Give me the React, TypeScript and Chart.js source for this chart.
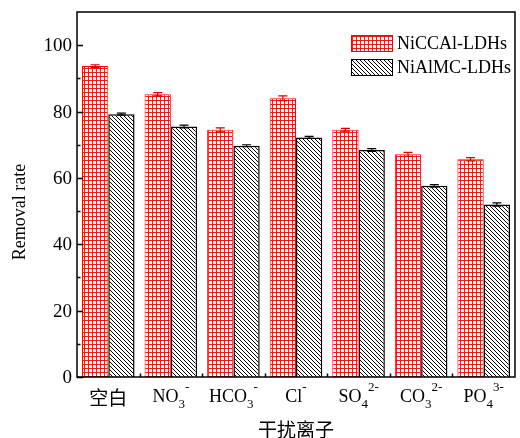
import { useEffect, useRef } from 'react';
import { Chart, registerables } from 'chart.js';
Chart.register(...registerables);

const labelBase = ['空白', 'NO', 'HCO', 'Cl', 'SO', 'CO', 'PO'];
const labelSub = ['', '3', '3', '', '4', '3', '4'];
const labelSup = ['', '-', '-', '-', '2-', '2-', '3-'];
const seriesNames = ['NiCCAl-LDHs', 'NiAlMC-LDHs'];
const niccal = [93.7, 85.2, 74.5, 84.0, 74.5, 67.1, 65.6];
const nialmc = [79.2, 75.5, 69.7, 72.2, 68.4, 57.6, 52.0];
const niccalErr = [0.4, 0.5, 0.6, 0.7, 0.4, 0.6, 0.5];
const nialmcErr = [0.3, 0.4, 0.3, 0.3, 0.4, 0.4, 0.5];
const yMajorTicks = [0, 20, 40, 60, 80, 100];
const yMinorTicks = [10, 30, 50, 70, 90];
const xTitle = '干扰离子';
const yTitle = 'Removal rate';

const SERIF = '"Liberation Serif", "DejaVu Serif", serif';
const CJK = '"Noto Sans CJK SC", sans-serif';

function makeGrid(ctx: CanvasRenderingContext2D) {
  const c = document.createElement('canvas');
  c.width = 4; c.height = 4;
  const g = c.getContext('2d')!;
  g.fillStyle = '#ffffff';
  g.fillRect(0, 0, 4, 4);
  g.fillStyle = 'rgba(255,0,0,0.9)';
  g.fillRect(0, 0, 4, 1);
  g.fillRect(0, 0, 1, 4);
  return ctx.createPattern(c, 'repeat')!;
}

function makeHatch(ctx: CanvasRenderingContext2D) {
  const s = 4;
  const c = document.createElement('canvas');
  c.width = s; c.height = s;
  const g = c.getContext('2d')!;
  g.fillStyle = '#ffffff';
  g.fillRect(0, 0, s, s);
  g.strokeStyle = '#000000';
  g.lineWidth = 1.0;
  for (const off of [-s, 0, s]) {
    g.beginPath();
    g.moveTo(off - 1, -1);
    g.lineTo(off + s + 1, s + 1);
    g.stroke();
  }
  return ctx.createPattern(c, 'repeat')!;
}

export default function App() {
  const ref = useRef<HTMLCanvasElement>(null);
  useEffect(() => {
    document.body.style.margin = '0';
    const ctx = ref.current!.getContext('2d')!;
    const gridPat = makeGrid(ctx);
    const hatchPat = makeHatch(ctx);
    const errs = [niccalErr, nialmcErr];
    const errColors = ['#d00000', '#000000'];
    const pats = [gridPat, hatchPat];
    const borders = ['#ff0000', '#000000'];

    const overlay = {
      id: 'overlay',
      afterDatasetsDraw(chart: any) {
        const c = chart.ctx as CanvasRenderingContext2D;
        const a = chart.chartArea;
        const xs = chart.scales.x;
        const ys = chart.scales.y;
        c.save();
        // error bars
        chart.data.datasets.forEach((ds: any, di: number) => {
          const meta = chart.getDatasetMeta(di);
          meta.data.forEach((el: any, i: number) => {
            const v = ds.data[i];
            const e = errs[di][i];
            const yt = ys.getPixelForValue(v + e);
            const yb = ys.getPixelForValue(v - e);
            c.strokeStyle = errColors[di];
            c.lineWidth = 1.2;
            c.beginPath();
            c.moveTo(el.x, yt); c.lineTo(el.x, yb);
            c.moveTo(el.x - 4.5, yt); c.lineTo(el.x + 4.5, yt);
            c.moveTo(el.x - 4.5, yb); c.lineTo(el.x + 4.5, yb);
            c.stroke();
          });
        });
        // frame
        c.strokeStyle = '#000';
        c.lineWidth = 1.5;
        c.strokeRect(a.left, a.top, a.right - a.left, a.bottom - a.top);
        // y ticks
        c.beginPath();
        yMajorTicks.forEach(v => {
          const y = Math.round(ys.getPixelForValue(v)) + 0.5;
          c.moveTo(a.left, y); c.lineTo(a.left + 6, y);
        });
        yMinorTicks.forEach(v => {
          const y = Math.round(ys.getPixelForValue(v)) + 0.5;
          c.moveTo(a.left, y); c.lineTo(a.left + 3.5, y);
        });
        const n = labelBase.length;
        const cw = (a.right - a.left) / n;
        for (let i = 1; i < n; i++) {
          const x = Math.round(a.left + cw * i) + 0.5;
          c.moveTo(x, a.bottom); c.lineTo(x, a.bottom - 3.5);
        }
        c.stroke();
        // y tick labels
        c.fillStyle = '#000';
        c.font = `19px ${SERIF}`;
        c.textAlign = 'right';
        c.textBaseline = 'middle';
        yMajorTicks.forEach(v => {
          c.fillText(String(v), a.left - 5, ys.getPixelForValue(v) + 1);
        });
        // x labels
        c.textBaseline = 'alphabetic';
        c.textAlign = 'left';
        const baseFont = `18px ${SERIF}`;
        const smallFont = `13px ${SERIF}`;
        for (let i = 0; i < n; i++) {
          const cx = xs.getPixelForValue(i);
          const base = labelBase[i];
          const isCJK = /[\u4e00-\u9fff]/.test(base);
          const bf = isCJK ? `19px ${CJK}` : baseFont;
          c.font = bf;
          const wb = c.measureText(base).width;
          c.font = smallFont;
          const ws = labelSub[i] ? c.measureText(labelSub[i]).width : 0;
          const wp = labelSup[i] ? c.measureText(labelSup[i]).width : 0;
          const total = wb + ws + wp;
          let x = cx - total / 2;
          const by = isCJK ? 405 : 402;
          c.font = bf;
          c.fillText(base, x, by);
          x += wb;
          c.font = smallFont;
          if (labelSub[i]) c.fillText(labelSub[i], x, by + 6);
          if (labelSup[i]) c.fillText(labelSup[i], x + ws, by - 11);
        }
        // axis titles
        c.font = `19px ${CJK}`;
        c.textAlign = 'center';
        c.textBaseline = 'middle';
        c.fillText(xTitle, (a.left + a.right) / 2, 430);
        c.save();
        c.translate(20, 212);
        c.rotate(-Math.PI / 2);
        c.font = `18px ${SERIF}`;
        c.fillText(yTitle, 0, 0);
        c.restore();
        // legend
        const lx = 351, lw = 41, lh = 16;
        const lys = [35, 59];
        seriesNames.forEach((name, i) => {
          c.fillStyle = pats[i];
          c.fillRect(lx, lys[i], lw, lh);
          c.strokeStyle = borders[i];
          c.lineWidth = 1;
          c.strokeRect(lx + 0.5, lys[i] + 0.5, lw, lh);
          c.fillStyle = '#000';
          c.font = `18px ${SERIF}`;
          c.textAlign = 'left';
          c.textBaseline = 'middle';
          c.fillText(name, lx + lw + 5, lys[i] + lh / 2 + 1);
        });
        c.restore();
      },
    };

    const chart = new Chart(ctx, {
      type: 'bar',
      data: {
        labels: labelBase.map((b, i) => b + labelSub[i] + labelSup[i]),
        datasets: [
          {
            label: seriesNames[0],
            data: niccal,
            backgroundColor: gridPat as any,
            borderColor: borders[0],
            borderWidth: 1,
            barPercentage: 1,
            categoryPercentage: 0.84,
          },
          {
            label: seriesNames[1],
            data: nialmc,
            backgroundColor: hatchPat as any,
            borderColor: borders[1],
            borderWidth: 1.5,
            barPercentage: 1,
            categoryPercentage: 0.84,
          },
        ],
      },
      options: {
        responsive: false,
        animation: false,
        layout: { padding: { top: 12, right: 5, left: 0, bottom: 0 } },
        plugins: { legend: { display: false }, tooltip: { enabled: false } },
        scales: {
          x: {
            grid: { display: false },
            border: { display: false },
            ticks: { display: false },
            afterFit: (s: any) => { s.height = 61; },
          },
          y: {
            min: 0,
            max: 110,
            grid: { display: false },
            border: { display: false },
            ticks: { display: false },
            afterFit: (s: any) => { s.width = 77; },
          },
        },
      },
      plugins: [overlay],
    });
    return () => chart.destroy();
  }, []);
  return (
    <div style={{ width: 520, height: 438 }}>
      <canvas ref={ref} width={520} height={438} style={{ display: 'block' }} />
    </div>
  );
}
